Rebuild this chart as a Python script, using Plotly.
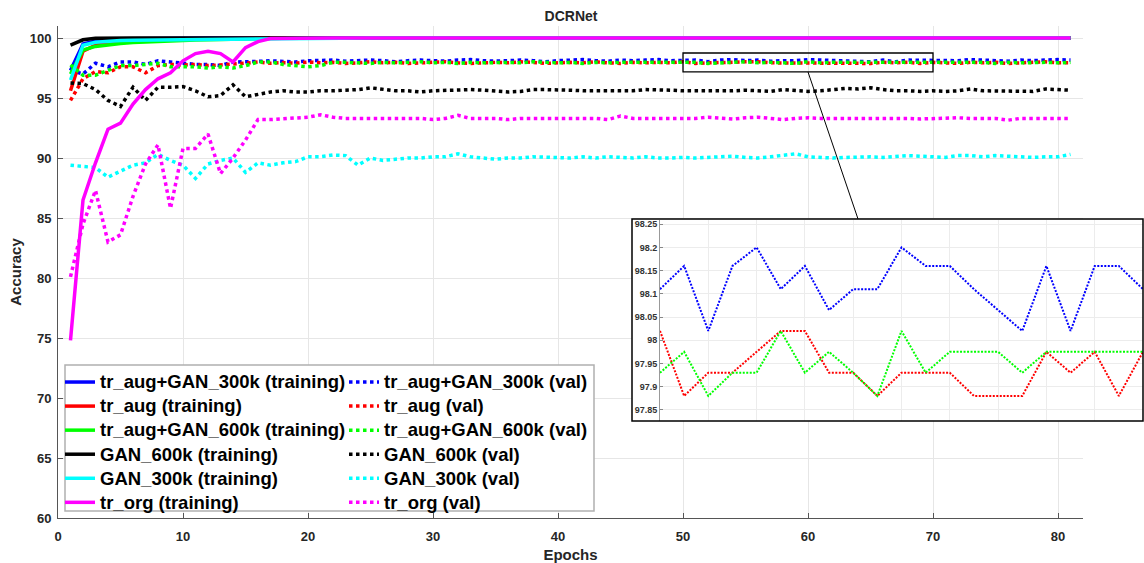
import plotly.graph_objects as go

epochs = list(range(1, 82))

# ---------- training accuracy ----------
tr_aug_gan300k_train = [97.3, 99.5, 99.75, 99.85, 99.9, 99.93, 99.95, 99.96, 99.97, 99.98,
                        99.99, 99.99, 99.99, 99.99, 99.99] + [100.0] * 66
tr_aug_train = [95.6, 98.9, 99.4, 99.6, 99.7, 99.78, 99.83, 99.87, 99.9, 99.92,
                99.94, 99.95, 99.96, 99.97, 99.98, 99.99] + [100.0] * 65
tr_aug_gan600k_train = [97.0, 99.0, 99.3, 99.45, 99.55, 99.62, 99.68, 99.72, 99.76, 99.8,
                        99.83, 99.86, 99.88, 99.9, 99.92, 99.94, 99.96, 99.98, 99.99] + [100.0] * 62
gan600k_train = [99.4, 99.85, 99.97] + [100.0] * 78
gan300k_train = [96.5, 99.4, 99.65, 99.75, 99.8, 99.82, 99.83, 99.84, 99.85, 99.86,
                 99.87, 99.88, 99.89, 99.9, 99.91, 99.93, 99.98] + [100.0] * 64
tr_org_train = [74.8, 86.5, 89.6, 92.4, 92.9, 94.5, 95.7, 96.6, 97.1, 98.1,
                98.7, 98.9, 98.7, 98.0, 99.2, 99.7, 99.95, 99.97] + [100.0] * 63

# ---------- validation accuracy ----------
tr_aug_gan300k_val = [97.3, 97.0, 97.9, 97.6, 98.0, 98.0, 97.8, 98.1, 98.0, 97.9,
                      97.8, 97.8, 97.7, 98.0, 98.0, 98.05, 98.1, 98.05, 98.0, 98.1,
                      98.11, 98.16, 98.07, 98.11, 98.16, 98.11, 98.02, 98.11, 98.16, 98.11,
                      98.07, 98.16, 98.2, 98.11, 98.07, 98.11, 98.16, 98.11, 98.02, 98.11,
                      98.16, 98.2, 98.11, 98.07, 98.16, 98.11, 98.16, 98.2, 98.11,
                      98.11, 98.16, 98.02, 98.16, 98.20, 98.11, 98.16, 98.065, 98.11, 98.11,
                      98.20, 98.16, 98.16, 98.11, 98.065, 98.02, 98.16, 98.02, 98.16, 98.16, 98.11,
                      98.16, 98.11, 98.2, 98.16, 98.11, 98.07, 98.16, 98.11, 98.16, 98.2, 98.16]
tr_aug_val = [94.8, 96.6, 97.2, 97.1, 97.6, 97.6, 97.1, 97.7, 97.8, 97.75,
              97.8, 97.7, 97.75, 97.8, 97.9, 98.0, 97.9, 97.95, 97.9, 98.0,
              97.93, 97.97, 97.88, 97.93, 98.02, 97.93, 97.97, 97.88, 97.93, 97.97,
              98.02, 97.93, 97.88, 97.93, 97.97, 97.93, 98.02, 97.97, 97.88, 97.93,
              97.97, 97.93, 98.02, 97.93, 97.88, 97.97, 97.93, 97.97, 97.93,
              98.02, 97.88, 97.93, 97.93, 97.975, 98.02, 98.02, 97.93, 97.93, 97.88,
              97.93, 97.93, 97.93, 97.88, 97.88, 97.88, 97.975, 97.93, 97.975, 97.88, 97.975,
              97.93, 97.88, 97.97, 97.93, 97.97, 97.88, 97.93, 97.97, 98.02, 97.93, 97.93]
tr_aug_gan600k_val = [97.75, 96.9, 96.9, 97.3, 97.7, 97.7, 97.8, 97.9, 97.6, 97.6,
                      97.6, 97.5, 97.6, 97.5, 97.7, 98.0, 98.0, 97.8, 97.7, 97.6,
                      97.7, 97.97, 97.97, 97.93, 97.88, 97.97, 97.93, 97.97, 98.02, 97.93,
                      97.97, 97.88, 97.97, 97.93, 97.97, 97.97, 97.93, 98.02, 97.97, 97.93,
                      97.97, 97.88, 97.97, 97.93, 97.97, 97.97, 97.93, 97.97, 97.97,
                      97.93, 97.975, 97.88, 97.93, 97.93, 98.02, 97.93, 97.975, 97.93, 97.88,
                      98.02, 97.93, 97.975, 97.975, 97.975, 97.93, 97.975, 97.975, 97.975, 97.975, 97.975,
                      97.97, 97.93, 97.97, 97.97, 97.88, 97.97, 97.93, 97.97, 97.97, 97.93, 97.97]
gan600k_val = [96.25, 96.2, 95.7, 94.8, 94.3, 95.9, 94.8, 95.9, 95.9, 95.95,
               95.6, 95.1, 95.2, 96.1, 95.1, 95.3, 95.5, 95.6, 95.5, 95.5,
               95.6, 95.6, 95.65, 95.7, 95.85, 95.75, 95.6, 95.6, 95.5, 95.6,
               95.65, 95.7, 95.7, 95.65, 95.6, 95.5, 95.55, 95.7, 95.7, 95.7,
               95.65, 95.6, 95.6, 95.6, 95.55, 95.6, 95.7, 95.7, 95.65, 95.6,
               95.6, 95.55, 95.6, 95.6, 95.65, 95.6, 95.55, 95.7, 95.65, 95.55,
               95.6, 95.7, 95.8, 95.75, 95.85, 95.7, 95.6, 95.6, 95.55, 95.6,
               95.55, 95.6, 95.75, 95.6, 95.6, 95.6, 95.6, 95.55, 95.75, 95.7, 95.65]
gan300k_val = [89.4, 89.3, 89.2, 88.4, 88.9, 89.4, 89.6, 90.3, 89.8, 89.4,
               88.3, 89.5, 89.8, 90.0, 88.8, 89.6, 89.4, 89.6, 89.7, 90.1,
               90.1, 90.25, 90.2, 89.4, 90.0, 89.8, 89.9, 90.0, 90.0, 90.1,
               90.1, 90.35, 90.1, 90.0, 89.9, 90.0, 90.0, 90.1, 90.05, 90.0,
               90.0, 90.1, 90.0, 90.1, 90.05, 90.0, 90.1, 90.0, 90.0, 90.05,
               90.0, 90.05, 90.1, 90.15, 90.05, 90.0, 90.1, 90.2, 90.35, 90.1,
               90.05, 90.0, 90.05, 90.1, 90.1, 90.05, 90.1, 90.2, 90.15, 90.1,
               90.05, 90.2, 90.2, 90.1, 90.2, 90.15, 90.1, 90.05, 90.1, 90.1, 90.3]
tr_org_val = [80.1, 84.5, 87.3, 83.0, 83.6, 86.8, 89.5, 91.1, 85.8, 90.8,
              90.8, 92.0, 88.7, 90.0, 91.5, 93.2, 93.2, 93.25, 93.3, 93.4,
              93.6, 93.4, 93.3, 93.3, 93.3, 93.3, 93.35, 93.3, 93.3, 93.2,
              93.3, 93.55, 93.3, 93.3, 93.3, 93.2, 93.3, 93.3, 93.3, 93.3,
              93.25, 93.3, 93.3, 93.2, 93.5, 93.3, 93.3, 93.3, 93.3, 93.25,
              93.3, 93.4, 93.3, 93.25, 93.35, 93.4, 93.3, 93.2, 93.3, 93.35,
              93.3, 93.3, 93.3, 93.35, 93.3, 93.3, 93.35, 93.3, 93.25, 93.3,
              93.3, 93.35, 93.3, 93.3, 93.3, 93.15, 93.3, 93.3, 93.3, 93.35, 93.3]

names = ["tr_aug+GAN_300k", "tr_aug", "tr_aug+GAN_600k", "GAN_600k", "GAN_300k", "tr_org"]
colors = ["#0000FF", "#FF0000", "#00FF00", "#000000", "#00FFFF", "#FF00FF"]
train_sets = [tr_aug_gan300k_train, tr_aug_train, tr_aug_gan600k_train,
              gan600k_train, gan300k_train, tr_org_train]
val_sets = [tr_aug_gan300k_val, tr_aug_val, tr_aug_gan600k_val,
            gan600k_val, gan300k_val, tr_org_val]

x_ticks = [0, 10, 20, 30, 40, 50, 60, 70, 80]
y_ticks = [60, 65, 70, 75, 80, 85, 90, 95, 100]
inset_ticks = [97.85, 97.9, 97.95, 98.0, 98.05, 98.1, 98.15, 98.2, 98.25]
inset_labels = ["97.85", "97.9", "97.95", "98", "98.05", "98.1", "98.15", "98.2", "98.25"]
inset_start, inset_end = 50, 70

FONT = "Arial, Liberation Sans, sans-serif"
TXT = "#262626"
LEG_SPAN = '<span style="font-size:18.5px"><b>%s</b></span>'

fig = go.Figure()

for nm, c, tr, va in zip(names, colors, train_sets, val_sets):
    fig.add_trace(go.Scatter(x=epochs, y=tr, mode="lines", name=LEG_SPAN % (nm + " (training)"),
                             line=dict(color=c, width=3.5), legend="legend",
                             xaxis="x", yaxis="y"))
    fig.add_trace(go.Scatter(x=epochs, y=va, mode="lines", name=LEG_SPAN % (nm + " (val)"),
                             line=dict(color=c, width=3.5, dash="dot"), legend="legend2",
                             xaxis="x", yaxis="y"))

# dummy subplot providing the opaque white inset frame background
fig.add_trace(go.Scatter(x=[None], y=[None], xaxis="x2", yaxis="y2", showlegend=False,
                         hoverinfo="skip"))

# inset traces (validation of the three augmented sets)
for nm, c, va in zip(names[:3], colors[:3], val_sets[:3]):
    fig.add_trace(go.Scatter(x=epochs[inset_start - 1:inset_end], y=va[inset_start - 1:inset_end],
                             mode="lines", showlegend=False,
                             line=dict(color=c, width=2, dash="2px,1.5px"),
                             xaxis="x3", yaxis="y3"))

W, H = 1144, 563
ml, mr, mt, mb = 58, 1, 26, 45
pw, ph = W - ml - mr, H - mt - mb


def px_x(p):
    return (p - ml) / pw


def px_y(p):
    return (H - mb - p) / ph


LEG_FONT = dict(size=16.2, color="#000", family=FONT)

fig.update_layout(
    width=W, height=H, autosize=False,
    margin=dict(l=ml, r=mr, t=mt, b=mb, autoexpand=False),
    paper_bgcolor="white", plot_bgcolor="white",
    font=dict(family=FONT, color=TXT),
    title=dict(text="<b>DCRNet</b>", x=571 / W, xanchor="center", xref="container",
               y=1 - 16 / H, yanchor="middle", yref="container", automargin=False,
               font=dict(size=14, color=TXT, family=FONT)),
    xaxis=dict(domain=[0, px_x(1083)], range=[0, 82], tickvals=x_ticks,
               ticktext=["<b>%d</b>" % v for v in x_ticks], automargin=False,
               ticks="inside", ticklen=5, tickcolor="#555", showline=True, linecolor="#555",
               linewidth=1, showgrid=True, gridcolor="#e6e6e6", zeroline=False,
               ticklabelstandoff=6,
               tickfont=dict(size=13, family=FONT, color=TXT),
               title=dict(text="<b>Epochs</b>", font=dict(size=15, color=TXT), standoff=9)),
    yaxis=dict(domain=[0, 1], range=[60, 101], tickvals=y_ticks,
               ticktext=["<b>%d</b>" % v for v in y_ticks], automargin=False,
               ticks="inside", ticklen=5, tickcolor="#555", showline=True, linecolor="#555",
               linewidth=1, showgrid=True, gridcolor="#e6e6e6", zeroline=False,
               ticklabelstandoff=3,
               tickfont=dict(size=13, color=TXT, family=FONT),
               title=dict(text="<b>Accuracy</b>", font=dict(size=15, color=TXT), standoff=4)),
    xaxis2=dict(domain=[px_x(632), 1], range=[0, 1], visible=False, anchor="y2"),
    yaxis2=dict(domain=[px_y(421), px_y(219)], range=[0, 1], visible=False, anchor="x2"),
    xaxis3=dict(domain=[px_x(660), 1], range=[inset_start, inset_end], anchor="y3",
                showticklabels=False, ticks="", showgrid=True, gridcolor="#ececec",
                dtick=2, tick0=50, zeroline=False, showline=False, automargin=False),
    yaxis3=dict(domain=[px_y(421), px_y(220)], range=[97.826, 98.259], anchor="x3",
                tickvals=inset_ticks, ticktext=["<b>%s</b>" % t for t in inset_labels],
                tickfont=dict(size=9, color="#333", family=FONT), ticks="inside", ticklen=3,
                tickcolor="#888", showgrid=True, gridcolor="#ececec", zeroline=False,
                showline=True, linecolor="#999", linewidth=1, automargin=False),
    legend=dict(x=px_x(60), y=px_y(365), xanchor="left", yanchor="top",
                bgcolor="rgba(0,0,0,0)", borderwidth=0, tracegroupgap=0, font=LEG_FONT),
    legend2=dict(x=px_x(344), y=px_y(365), xanchor="left", yanchor="top",
                 bgcolor="rgba(0,0,0,0)", borderwidth=0, tracegroupgap=0, font=LEG_FONT),
    showlegend=True,
)

shapes = [
    # legend box
    dict(type="rect", xref="paper", yref="paper", x0=px_x(65), x1=px_x(594),
         y0=px_y(511), y1=px_y(365), line=dict(color="#b0b0b0", width=1.5),
         fillcolor="white", layer="above"),
    # inset frame
    dict(type="rect", xref="paper", yref="paper", x0=px_x(632), x1=1.0,
         y0=px_y(421), y1=px_y(219), line=dict(color="#000", width=1.5), layer="above"),
    # zoom box in main axes
    dict(type="rect", xref="x", yref="y", x0=inset_start, x1=inset_end, y0=97.17, y1=98.75,
         line=dict(color="#000", width=1.3), layer="above"),
    # connector
    dict(type="line", xref="x", yref="y", x0=60, y0=97.17, x1=64, y1=84.92,
         line=dict(color="#000", width=1), layer="above"),
]
fig.update_layout(shapes=shapes)

fig.write_html("out.html", config={"displayModeBar": False},
               post_script="document.body.style.margin='0';")
